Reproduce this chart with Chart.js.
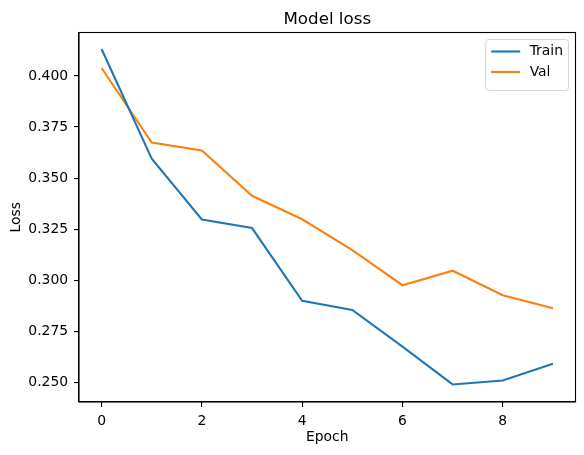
<!DOCTYPE html>
<html>
<head>
<meta charset="utf-8">
<script src="https://cdn.jsdelivr.net/npm/chart.js@4/dist/chart.umd.min.js"></script>
<style>
  html, body { margin: 0; padding: 0; background: #fff; }
  #wrap { width: 584px; height: 455px; position: relative; }
</style>
</head>
<body>
<div id="wrap"><canvas id="c" width="584" height="455"></canvas></div>
<script>
// ---- data ----
const epochs = [0, 1, 2, 3, 4, 5, 6, 7, 8, 9];
const trainLoss = [0.4132, 0.3595, 0.3297, 0.3255, 0.2899, 0.2854, 0.2674, 0.2489, 0.2508, 0.2590];
const valLoss   = [0.4039, 0.3674, 0.3635, 0.3413, 0.3298, 0.3147, 0.2975, 0.3046, 0.2926, 0.2862];
const xTicks = [0, 2, 4, 6, 8];
const yTicks = [0.250, 0.275, 0.300, 0.325, 0.350, 0.375, 0.400];
const seriesNames = ['Train', 'Val'];
const titleText = 'Model loss';
const xTitle = 'Epoch';
const yTitle = 'Loss';

const FONT = 'DejaVu Sans';
const TICK_PX = 13.9;

const boxPlugin = {
  id: 'axesBox',
  afterDraw(chart) {
    const {ctx, chartArea: a} = chart;
    ctx.save();
    ctx.strokeStyle = '#000';
    ctx.lineWidth = 1.1;
    ctx.strokeRect(a.left, a.top, a.right - a.left, a.bottom - a.top);
    // title centred over the axes
    ctx.fillStyle = '#000';
    ctx.font = '16.7px "' + FONT + '"';
    ctx.textAlign = 'center';
    ctx.textBaseline = 'alphabetic';
    ctx.fillText(titleText, (a.left + a.right) / 2, a.top - 8.5);
    ctx.restore();
  }
};

const legendPlugin = {
  id: 'innerLegend',
  afterDraw(chart) {
    const {ctx, chartArea: a} = chart;
    const ds = chart.data.datasets;
    ctx.save();
    ctx.font = TICK_PX + 'px "' + FONT + '"';
    let maxW = 0;
    ds.forEach(d => { maxW = Math.max(maxW, ctx.measureText(d.label).width); });
    const pad = 5.5, handle = 29, gap = 9.5, rowH = 20.5;
    const w = pad + handle + gap + maxW + pad;
    const h = pad * 2 + rowH * ds.length - 1;
    const x = a.right - 7 - w;
    const y = a.top + 7;
    const r = 3;
    ctx.beginPath();
    ctx.moveTo(x + r, y);
    ctx.lineTo(x + w - r, y);
    ctx.quadraticCurveTo(x + w, y, x + w, y + r);
    ctx.lineTo(x + w, y + h - r);
    ctx.quadraticCurveTo(x + w, y + h, x + w - r, y + h);
    ctx.lineTo(x + r, y + h);
    ctx.quadraticCurveTo(x, y + h, x, y + h - r);
    ctx.lineTo(x, y + r);
    ctx.quadraticCurveTo(x, y, x + r, y);
    ctx.closePath();
    ctx.fillStyle = 'rgba(255,255,255,0.8)';
    ctx.fill();
    ctx.strokeStyle = 'rgba(204,204,204,0.8)';
    ctx.lineWidth = 1;
    ctx.stroke();
    ds.forEach((d, i) => {
      const cy = y + pad + rowH * i + 6.5;
      ctx.strokeStyle = d.borderColor;
      ctx.lineWidth = 2.1;
      ctx.beginPath();
      ctx.moveTo(x + pad, cy);
      ctx.lineTo(x + pad + handle, cy);
      ctx.stroke();
      ctx.fillStyle = '#000';
      ctx.textBaseline = 'middle';
      ctx.textAlign = 'left';
      ctx.fillText(d.label, x + pad + handle + gap, cy);
    });
    ctx.restore();
  }
};

const toPts = arr => epochs.map((e, i) => ({x: e, y: arr[i]}));

new Chart(document.getElementById('c'), {
  type: 'line',
  data: {
    datasets: [
      { label: seriesNames[0], data: toPts(trainLoss), borderColor: '#1f77b4', backgroundColor: '#1f77b4',
        borderWidth: 2.1, pointRadius: 0, tension: 0, fill: false },
      { label: seriesNames[1], data: toPts(valLoss), borderColor: '#ff7f0e', backgroundColor: '#ff7f0e',
        borderWidth: 2.1, pointRadius: 0, tension: 0, fill: false }
    ]
  },
  options: {
    responsive: false,
    animation: false,
    devicePixelRatio: 1,
    layout: { padding: { left: 0, right: 8.5, top: 32.5, bottom: 0 } },
    plugins: {
      legend: { display: false },
      tooltip: { enabled: false },
      title: { display: false }
    },
    scales: {
      x: {
        type: 'linear', min: -0.45, max: 9.45, offset: false,
        afterBuildTicks: s => { s.ticks = xTicks.map(v => ({value: v})); },
        afterFit: s => { s.height = 53; },
        ticks: { color: '#000', font: { family: FONT, size: TICK_PX }, padding: 6, maxRotation: 0,
                 callback: v => String(v) },
        grid: { display: true, drawOnChartArea: false, drawTicks: true, tickLength: 4.9, color: '#000', lineWidth: 1.1 },
        border: { display: true, color: '#000', width: 1.1 },
        title: { display: true, text: xTitle, color: '#000', font: { family: FONT, size: TICK_PX }, padding: { top: 0, bottom: 9.7 } }
      },
      y: {
        type: 'linear', min: 0.2403, max: 0.4213,
        afterBuildTicks: s => { s.ticks = yTicks.map(v => ({value: v})); },
        afterFit: s => { s.width = 79; },
        ticks: { color: '#000', font: { family: FONT, size: TICK_PX }, padding: 6,
                 callback: v => Number(v).toFixed(3) },
        grid: { display: true, drawOnChartArea: false, drawTicks: true, tickLength: 4.9, color: '#000', lineWidth: 1.1 },
        border: { display: true, color: '#000', width: 1.1 },
        title: { display: true, text: yTitle, color: '#000', font: { family: FONT, size: TICK_PX }, padding: { top: 7.7, bottom: 0 } }
      }
    }
  },
  plugins: [boxPlugin, legendPlugin]
});
</script>
</body>
</html>
